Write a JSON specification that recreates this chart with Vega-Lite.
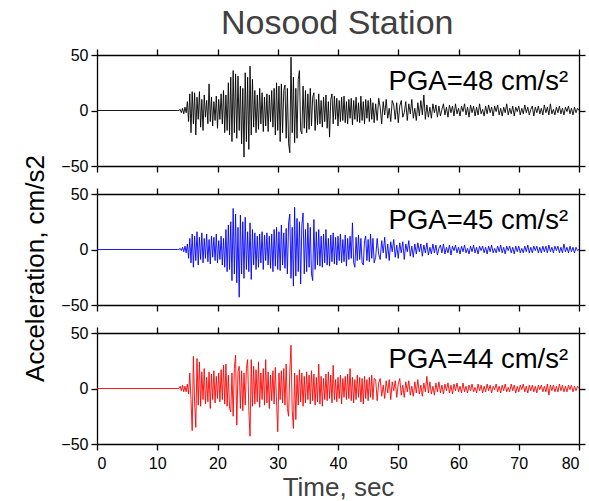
{
"$schema":"https://vega.github.io/schema/vega-lite/v6.json",
"padding":{"left":22,"top":7,"right":5,"bottom":2},
"title":{"text":"Nosood Station","fontSize":34,"font":"Liberation Sans","fontWeight":"normal","color":"#404040","anchor":"middle","offset":6,"dx":33},
"config":{"view":{"stroke":null},"font":"Liberation Sans",
"axis":{"grid":false,"domainColor":"black","domainWidth":1.3,"tickColor":"black","tickWidth":1.3,"tickSize":6,"labelFont":"Liberation Sans","labelFontSize":16,"labelColor":"black","labelPadding":3,"titleFont":"Liberation Sans","titleFontWeight":"normal"}},
"spacing":28,
"bounds":"flush",
"datasets":{"d":[
{"t":0,"a":0,"b":0,"c":0},{"t":13.4,"a":0,"b":0,"c":0},
{"t":13.6,"a":0,"b":0,"c":0},{"t":13.8,"a":1,"b":1,"c":2},{"t":14.0,"a":-2,"b":-1,"c":-2},{"t":14.2,"a":2,"b":2,"c":3},{"t":14.4,"a":-3,"b":-2,"c":-3},{"t":14.6,"a":3,"b":3,"c":2},{"t":14.8,"a":-2,"b":-3,"c":-3},
{"t":15.0,"a":8,"b":5,"c":4},{"t":15.2,"a":-10,"b":-8,"c":-5},{"t":15.4,"a":15,"b":10,"c":14},{"t":15.6,"a":-20,"b":-12,"c":-10},{"t":15.8,"a":17,"b":14,"c":-38},
{"t":16.0,"a":-12,"b":-16,"c":29},{"t":16.2,"a":16,"b":12,"c":-12},{"t":16.4,"a":-22,"b":-10,"c":-35},{"t":16.6,"a":12,"b":16,"c":27},{"t":16.8,"a":-8,"b":-14,"c":-15},
{"t":17.0,"a":17,"b":11,"c":24},{"t":17.2,"a":-15,"b":-9,"c":-16},{"t":17.4,"a":10,"b":15,"c":15},{"t":17.6,"a":-18,"b":-12,"c":-10},{"t":17.8,"a":14,"b":10,"c":18},
{"t":18.0,"a":-6,"b":-8,"c":-14},{"t":18.2,"a":9,"b":14,"c":10},{"t":18.4,"a":-12,"b":-11,"c":-12},{"t":18.6,"a":24,"b":9,"c":15},{"t":18.8,"a":-10,"b":-13,"c":-18},
{"t":19.0,"a":12,"b":12,"c":13},{"t":19.2,"a":-14,"b":-7,"c":-10},{"t":19.4,"a":8,"b":11,"c":16},{"t":19.6,"a":-9,"b":-10,"c":-13},{"t":19.8,"a":13,"b":14,"c":11},
{"t":20.0,"a":-16,"b":-12,"c":-9},{"t":20.2,"a":10,"b":8,"c":14},{"t":20.4,"a":-8,"b":-9,"c":-12},{"t":20.6,"a":15,"b":12,"c":17},{"t":20.8,"a":-12,"b":-14,"c":-10},
{"t":21.0,"a":18,"b":10,"c":21},{"t":21.2,"a":-20,"b":-16,"c":-14},{"t":21.4,"a":14,"b":18,"c":22},{"t":21.6,"a":-18,"b":-20,"c":-16},{"t":21.8,"a":25,"b":22,"c":12},
{"t":22.0,"a":-22,"b":-18,"c":-18},{"t":22.2,"a":30,"b":25,"c":-21},{"t":22.4,"a":-28,"b":-28,"c":14},{"t":22.6,"a":36,"b":37,"c":-25},{"t":22.8,"a":-20,"b":-22,"c":18},
{"t":23.0,"a":33,"b":32,"c":30},{"t":23.2,"a":-25,"b":-30,"c":-33},{"t":23.4,"a":31,"b":20,"c":15},{"t":23.6,"a":-18,"b":-43,"c":20},{"t":23.8,"a":22,"b":31,"c":-18},
{"t":24.0,"a":-30,"b":-22,"c":16},{"t":24.2,"a":20,"b":25,"c":-20},{"t":24.4,"a":-42,"b":-26,"c":14},{"t":24.6,"a":34,"b":29,"c":-15},{"t":24.8,"a":-28,"b":-18,"c":18},
{"t":25.0,"a":30,"b":16,"c":26},{"t":25.2,"a":-35,"b":-20,"c":-20},{"t":25.4,"a":40,"b":24,"c":-43},{"t":25.6,"a":-22,"b":-27,"c":26},{"t":25.8,"a":28,"b":18,"c":-16},
{"t":26.0,"a":-15,"b":-14,"c":20},{"t":26.2,"a":18,"b":15,"c":-14},{"t":26.4,"a":-20,"b":-18,"c":17},{"t":26.6,"a":14,"b":12,"c":-12},{"t":26.8,"a":-17,"b":-16,"c":24},
{"t":27.0,"a":20,"b":14,"c":-17},{"t":27.2,"a":-12,"b":-12,"c":14},{"t":27.4,"a":16,"b":16,"c":-10},{"t":27.6,"a":-19,"b":-18,"c":18},{"t":27.8,"a":12,"b":13,"c":-15},
{"t":28.0,"a":-14,"b":-10,"c":26},{"t":28.2,"a":15,"b":15,"c":-13},{"t":28.4,"a":-19,"b":-14,"c":15},{"t":28.6,"a":14,"b":12,"c":-18},{"t":28.8,"a":-10,"b":-17,"c":12},
{"t":29.0,"a":18,"b":14,"c":-11},{"t":29.2,"a":-15,"b":-20,"c":16},{"t":29.4,"a":20,"b":18,"c":-14},{"t":29.6,"a":-22,"b":-15,"c":19},{"t":29.8,"a":25,"b":20,"c":-12},
{"t":30.0,"a":-18,"b":-18,"c":-39},{"t":30.2,"a":22,"b":16,"c":14},{"t":30.4,"a":-28,"b":-19,"c":-10},{"t":30.6,"a":24,"b":22,"c":16},{"t":30.8,"a":-20,"b":-14,"c":-13},
{"t":31.0,"a":18,"b":15,"c":18},{"t":31.2,"a":23,"b":-17,"c":-15},{"t":31.4,"a":-25,"b":19,"c":22},{"t":31.6,"a":20,"b":-22,"c":-18},{"t":31.8,"a":-30,"b":24,"c":-25},
{"t":32.0,"a":-38,"b":32,"c":15},{"t":32.2,"a":48,"b":-26,"c":39},{"t":32.4,"a":-20,"b":20,"c":-20},{"t":32.6,"a":30,"b":-33,"c":-36},{"t":32.8,"a":-29,"b":38,"c":14},
{"t":33.0,"a":20,"b":-24,"c":-28},{"t":33.2,"a":-25,"b":28,"c":12},{"t":33.4,"a":28,"b":-20,"c":-15},{"t":33.6,"a":36,"b":25,"c":17},{"t":33.8,"a":-18,"b":-31,"c":-12},
{"t":34.0,"a":-21,"b":22,"c":14},{"t":34.2,"a":22,"b":33,"c":-16},{"t":34.4,"a":-16,"b":-22,"c":11},{"t":34.6,"a":18,"b":18,"c":-13},{"t":34.8,"a":-20,"b":-20,"c":15},
{"t":35.0,"a":15,"b":24,"c":-10},{"t":35.2,"a":-17,"b":-16,"c":12},{"t":35.4,"a":20,"b":20,"c":-14},{"t":35.6,"a":-14,"b":-22,"c":16},{"t":35.8,"a":12,"b":-28,"c":-11},
{"t":36.0,"a":16,"b":27,"c":13},{"t":36.2,"a":-18,"b":-18,"c":-15},{"t":36.4,"a":10,"b":16,"c":10},{"t":36.6,"a":-13,"b":-14,"c":-12},{"t":36.8,"a":15,"b":18,"c":22},
{"t":37.0,"a":-12,"b":-15,"c":-14},{"t":37.2,"a":9,"b":12,"c":11},{"t":37.4,"a":-15,"b":-16,"c":-16},{"t":37.6,"a":12,"b":14,"c":9},{"t":37.8,"a":-10,"b":-12,"c":-10},
{"t":38.0,"a":14,"b":18,"c":13},{"t":38.2,"a":-16,"b":-14,"c":-11},{"t":38.4,"a":8,"b":10,"c":15},{"t":38.6,"a":-24,"b":-15,"c":-9},{"t":38.8,"a":10,"b":13,"c":12},
{"t":39.0,"a":15,"b":-11,"c":-13},{"t":39.2,"a":-12,"b":15,"c":21},{"t":39.4,"a":13,"b":-13,"c":-10},{"t":39.6,"a":-8,"b":11,"c":8},{"t":39.8,"a":11,"b":-14,"c":-12},
{"t":40.0,"a":-14,"b":12,"c":10},{"t":40.2,"a":9,"b":-10,"c":-9},{"t":40.4,"a":-10,"b":14,"c":12},{"t":40.6,"a":12,"b":-12,"c":-14},{"t":40.8,"a":-9,"b":9,"c":9},
{"t":41.0,"a":13,"b":-11,"c":-8},{"t":41.2,"a":-11,"b":13,"c":11},{"t":41.4,"a":8,"b":-15,"c":-10},{"t":41.6,"a":-12,"b":10,"c":13},{"t":41.8,"a":10,"b":-9,"c":-9},
{"t":42.0,"a":-7,"b":12,"c":18},{"t":42.2,"a":11,"b":-8,"c":-11},{"t":42.4,"a":-13,"b":24,"c":10},{"t":42.6,"a":9,"b":-12,"c":-13},{"t":42.8,"a":-8,"b":-16,"c":8},
{"t":43.0,"a":12,"b":11,"c":-10},{"t":43.2,"a":-10,"b":-10,"c":12},{"t":43.4,"a":7,"b":13,"c":-8},{"t":43.6,"a":-11,"b":-9,"c":10},{"t":43.8,"a":13,"b":10,"c":-12},
{"t":44.0,"a":-9,"b":-12,"c":9},{"t":44.2,"a":8,"b":-14,"c":-14},{"t":44.4,"a":-12,"b":8,"c":11},{"t":44.6,"a":10,"b":12,"c":-9},{"t":44.8,"a":-7,"b":-10,"c":8},
{"t":45.0,"a":9,"b":9,"c":-11},{"t":45.2,"a":-10,"b":-11,"c":10},{"t":45.4,"a":11,"b":14,"c":-8},{"t":45.6,"a":-8,"b":-8,"c":12},{"t":45.8,"a":7,"b":10,"c":-10},
{"t":46.0,"a":-11,"b":-12,"c":9},
{"t":46.25,"a":6,"b":-7,"c":8},{"t":46.5,"a":-9,"b":10,"c":-11},{"t":46.75,"a":11,"b":-4,"c":5},{"t":47.0,"a":3,"b":-9,"c":9},
{"t":47.25,"a":-12,"b":8,"c":-7},{"t":47.5,"a":8,"b":-3,"c":3},{"t":47.75,"a":-4,"b":11,"c":-9},{"t":48.0,"a":10,"b":-8,"c":7},
{"t":48.25,"a":-7,"b":5,"c":-4},{"t":48.5,"a":2,"b":-10,"c":8},{"t":48.75,"a":-10,"b":7,"c":-10},{"t":49.0,"a":9,"b":-2,"c":6},
{"t":49.25,"a":5,"b":9,"c":-2},{"t":49.5,"a":-8,"b":-7,"c":7},{"t":49.75,"a":7,"b":4,"c":-8},{"t":50.0,"a":-11,"b":-8,"c":4},
{"t":50.25,"a":4,"b":6,"c":9},{"t":50.5,"a":9,"b":-3,"c":-6},{"t":50.75,"a":-6,"b":7,"c":3},{"t":51.0,"a":-2,"b":-9,"c":-8},
{"t":51.25,"a":8,"b":5,"c":6},{"t":51.5,"a":-9,"b":-2,"c":-3},{"t":51.75,"a":6,"b":8,"c":7},{"t":52.0,"a":-3,"b":-6,"c":-6},
{"t":52.25,"a":10,"b":3,"c":2},{"t":52.5,"a":-7,"b":-7,"c":-7},{"t":52.75,"a":2,"b":5,"c":6},{"t":53.0,"a":-9,"b":-4,"c":-4},
{"t":53.25,"a":7,"b":6,"c":8},{"t":53.5,"a":-5,"b":-2,"c":-5},{"t":53.75,"a":9,"b":5,"c":3},{"t":54.0,"a":-4,"b":-6,"c":-7},
{"t":54.25,"a":14,"b":4,"c":5},{"t":54.5,"a":-8,"b":-3,"c":-3},{"t":54.75,"a":5,"b":6,"c":11},{"t":55.0,"a":-6,"b":-5,"c":-4},
{"t":55.25,"a":3,"b":2,"c":6},{"t":55.5,"a":-7,"b":-4,"c":-5},{"t":55.75,"a":6,"b":5,"c":2},{"t":56.0,"a":-2,"b":-3,"c":-6},
{"t":56.25,"a":5,"b":4,"c":5},{"t":56.5,"a":-6,"b":-5,"c":-3},{"t":56.75,"a":4,"b":1,"c":6},{"t":57.0,"a":-5,"b":4,"c":-4},
{"t":57.25,"a":1,"b":-3,"c":3},{"t":57.5,"a":6,"b":5,"c":-5},{"t":57.75,"a":-4,"b":-4,"c":4},{"t":58.0,"a":3,"b":2,"c":-2},
{"t":58.25,"a":-6,"b":-3,"c":5},{"t":58.5,"a":5,"b":4,"c":-4},{"t":58.75,"a":-2,"b":-5,"c":3},{"t":59.0,"a":4,"b":3,"c":-5},
{"t":59.25,"a":-5,"b":-1,"c":4},{"t":59.5,"a":6,"b":4,"c":-2},{"t":59.75,"a":-3,"b":-3,"c":5},{"t":60.0,"a":2,"b":2,"c":-3},
{"t":60.25,"a":-5,"b":-4,"c":2},{"t":60.5,"a":4,"b":3,"c":-4},{"t":60.75,"a":-1,"b":-2,"c":5},{"t":61.0,"a":6,"b":4,"c":-3},
{"t":61.25,"a":-4,"b":-3,"c":2},{"t":61.5,"a":3,"b":1,"c":-4},{"t":61.75,"a":-6,"b":-4,"c":3},{"t":62.0,"a":5,"b":3,"c":-2},
{"t":62.25,"a":-2,"b":-2,"c":4},{"t":62.5,"a":4,"b":4,"c":-3},{"t":62.75,"a":-5,"b":-3,"c":1},{"t":63.0,"a":3,"b":2,"c":-4},
{"t":63.25,"a":-4,"b":-4,"c":4},{"t":63.5,"a":6,"b":3,"c":-2},{"t":63.75,"a":-3,"b":-1,"c":3},{"t":64.0,"a":1,"b":3,"c":-4},
{"t":64.25,"a":-5,"b":-3,"c":2},{"t":64.5,"a":4,"b":2,"c":-3},{"t":64.75,"a":-3,"b":-4,"c":4},{"t":65.0,"a":5,"b":3,"c":-2},
{"t":65.25,"a":-2,"b":-2,"c":3},{"t":65.5,"a":3,"b":4,"c":-4},{"t":65.75,"a":-5,"b":-3,"c":2},{"t":66.0,"a":4,"b":1,"c":-1},
{"t":66.25,"a":-1,"b":-3,"c":4},{"t":66.5,"a":5,"b":3,"c":-3},{"t":66.75,"a":-4,"b":-2,"c":2},{"t":67.0,"a":2,"b":4,"c":-4},
{"t":67.25,"a":-5,"b":-3,"c":3},{"t":67.5,"a":3,"b":2,"c":-2},{"t":67.75,"a":-2,"b":-4,"c":4},{"t":68.0,"a":6,"b":3,"c":-3},
{"t":68.25,"a":-4,"b":-1,"c":1},{"t":68.5,"a":2,"b":3,"c":-3},{"t":68.75,"a":-3,"b":-3,"c":4},{"t":69.0,"a":4,"b":2,"c":-2},
{"t":69.25,"a":-5,"b":-4,"c":3},{"t":69.5,"a":3,"b":3,"c":-4},{"t":69.75,"a":-1,"b":-2,"c":2},{"t":70.0,"a":4,"b":3,"c":-3},
{"t":70.25,"a":-4,"b":-3,"c":3},{"t":70.5,"a":2,"b":1,"c":-1},{"t":70.75,"a":-3,"b":-3,"c":4},{"t":71.0,"a":5,"b":3,"c":-3},
{"t":71.25,"a":-2,"b":-2,"c":2},{"t":71.5,"a":3,"b":4,"c":-4},{"t":71.75,"a":-4,"b":-3,"c":3},{"t":72.0,"a":1,"b":2,"c":-2},
{"t":72.25,"a":4,"b":-3,"c":3},{"t":72.5,"a":-5,"b":3,"c":-3},{"t":72.75,"a":3,"b":-1,"c":2},{"t":73.0,"a":-2,"b":3,"c":-4},
{"t":73.25,"a":4,"b":-3,"c":3},{"t":73.5,"a":-3,"b":2,"c":-1},{"t":73.75,"a":2,"b":-3,"c":3},{"t":74.0,"a":-4,"b":3,"c":-3},
{"t":74.25,"a":5,"b":-2,"c":2},{"t":74.5,"a":-2,"b":3,"c":-3},{"t":74.75,"a":3,"b":-3,"c":4},{"t":75.0,"a":-4,"b":4,"c":-6},
{"t":75.25,"a":6,"b":-2,"c":3},{"t":75.5,"a":-3,"b":2,"c":-2},{"t":75.75,"a":1,"b":-3,"c":3},{"t":76.0,"a":-4,"b":3,"c":-3},
{"t":76.25,"a":3,"b":-1,"c":2},{"t":76.5,"a":-2,"b":3,"c":-3},{"t":76.75,"a":4,"b":-3,"c":4},{"t":77.0,"a":-3,"b":2,"c":-2},
{"t":77.25,"a":2,"b":-3,"c":3},{"t":77.5,"a":-4,"b":5,"c":-3},{"t":77.75,"a":3,"b":-2,"c":2},{"t":78.0,"a":-1,"b":2,"c":-3},
{"t":78.25,"a":4,"b":-3,"c":3},{"t":78.5,"a":-3,"b":3,"c":-1},{"t":78.75,"a":2,"b":-2,"c":3},{"t":79.0,"a":-4,"b":2,"c":-3},
{"t":79.25,"a":3,"b":-3,"c":2},{"t":79.5,"a":-2,"b":2,"c":-2},{"t":79.75,"a":2,"b":-1,"c":2},{"t":80.0,"a":0,"b":0,"c":0}
]},
"vconcat":[
{"width":482,"height":111,
"layer":[
{"data":{"name":"d"},"mark":{"type":"line","color":"black","strokeWidth":0.9},
"encoding":{"x":{"field":"t","type":"quantitative","scale":{"domain":[0,80],"nice":false,"zero":false},"axis":{"orient":"bottom","values":[0,10,20,30,40,50,60,70,80],"labels":false,"title":null}},
"y":{"field":"a","type":"quantitative","scale":{"domain":[-50,50],"nice":false},"axis":{"orient":"left","values":[-50,0,50],"title":null}}}},
{"data":{"name":"d"},"mark":{"type":"line","opacity":0},
"encoding":{"x":{"field":"t","type":"quantitative","axis":{"orient":"top","values":[0,10,20,30,40,50,60,70,80],"labels":false,"title":null}},
"y":{"field":"a","type":"quantitative","axis":{"orient":"right","values":[-50,0,50],"labels":false,"title":null}}}},
{"data":{"values":[{}]},"mark":{"type":"text","text":"PGA=48 cm/s²","align":"right","baseline":"alphabetic","fontSize":27.5,"font":"Liberation Sans","color":"black"},
"encoding":{"x":{"datum":78.2,"type":"quantitative","axis":null},"y":{"datum":18.2,"type":"quantitative","axis":null}}}
],
"resolve":{"axis":{"x":"independent","y":"independent"}}},
{"width":482,"height":111,
"layer":[
{"data":{"name":"d"},"mark":{"type":"line","color":"blue","strokeWidth":0.9},
"encoding":{"x":{"field":"t","type":"quantitative","scale":{"domain":[0,80],"nice":false,"zero":false},"axis":{"orient":"bottom","values":[0,10,20,30,40,50,60,70,80],"labels":false,"title":null}},
"y":{"field":"b","type":"quantitative","scale":{"domain":[-50,50],"nice":false},"axis":{"orient":"left","values":[-50,0,50],"title":"Acceleration, cm/s2","titleFontSize":26,"titleColor":"black","titlePadding":12,"titleY":74}}}},
{"data":{"name":"d"},"mark":{"type":"line","opacity":0},
"encoding":{"x":{"field":"t","type":"quantitative","axis":{"orient":"top","values":[0,10,20,30,40,50,60,70,80],"labels":false,"title":null}},
"y":{"field":"b","type":"quantitative","axis":{"orient":"right","values":[-50,0,50],"labels":false,"title":null}}}},
{"data":{"values":[{}]},"mark":{"type":"text","text":"PGA=45 cm/s²","align":"right","baseline":"alphabetic","fontSize":27.5,"font":"Liberation Sans","color":"black"},
"encoding":{"x":{"datum":78.2,"type":"quantitative","axis":null},"y":{"datum":18.2,"type":"quantitative","axis":null}}}
],
"resolve":{"axis":{"x":"independent","y":"independent"}}},
{"width":482,"height":111,
"layer":[
{"data":{"name":"d"},"mark":{"type":"line","color":"red","strokeWidth":0.9},
"encoding":{"x":{"field":"t","type":"quantitative","scale":{"domain":[0,80],"nice":false,"zero":false},"axis":{"orient":"bottom","values":[0,10,20,30,40,50,60,70,80],"title":"Time, sec","titleFontSize":26,"titleColor":"#404040","labelPadding":5,"titlePadding":3}},
"y":{"field":"c","type":"quantitative","scale":{"domain":[-50,50],"nice":false},"axis":{"orient":"left","values":[-50,0,50],"title":null}}}},
{"data":{"name":"d"},"mark":{"type":"line","opacity":0},
"encoding":{"x":{"field":"t","type":"quantitative","axis":{"orient":"top","values":[0,10,20,30,40,50,60,70,80],"labels":false,"title":null}},
"y":{"field":"c","type":"quantitative","axis":{"orient":"right","values":[-50,0,50],"labels":false,"title":null}}}},
{"data":{"values":[{}]},"mark":{"type":"text","text":"PGA=44 cm/s²","align":"right","baseline":"alphabetic","fontSize":27.5,"font":"Liberation Sans","color":"black"},
"encoding":{"x":{"datum":78.2,"type":"quantitative","axis":null},"y":{"datum":18.2,"type":"quantitative","axis":null}}}
],
"resolve":{"axis":{"x":"independent","y":"independent"}}}
]
}
